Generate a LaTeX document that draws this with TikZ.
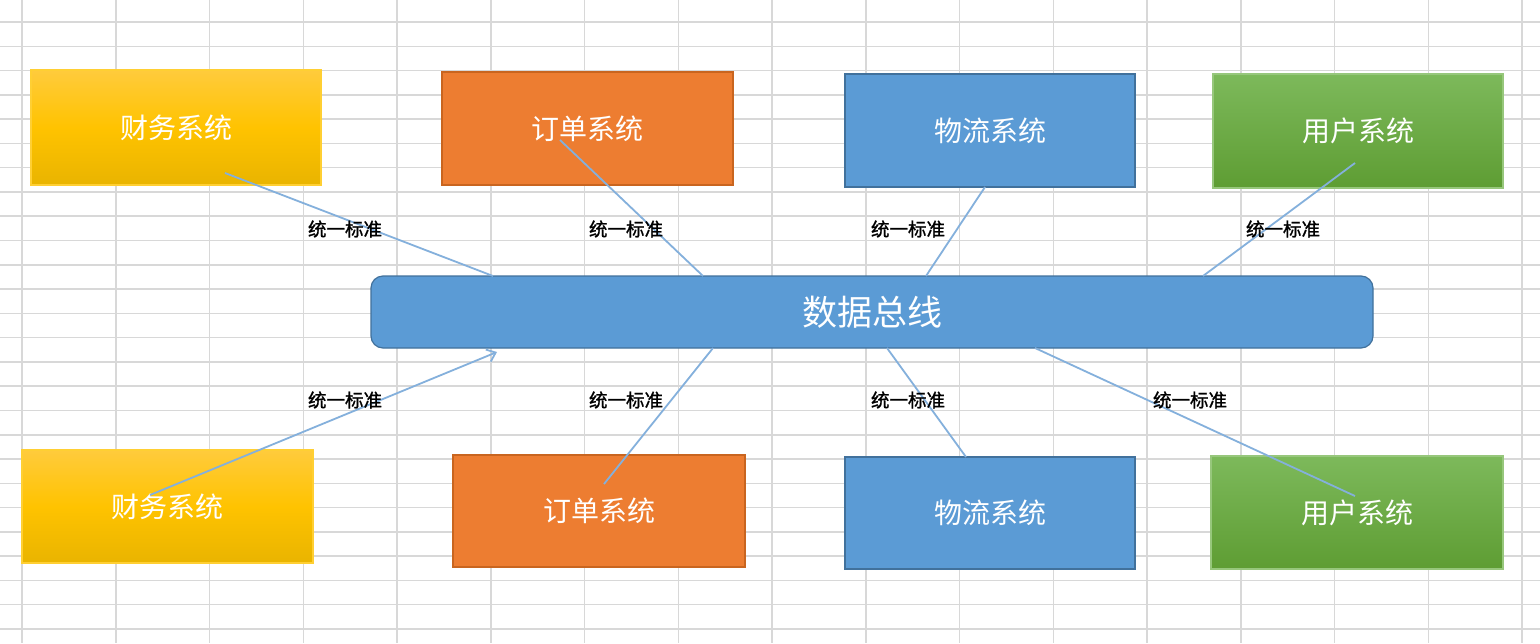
\documentclass[tikz,border=0pt]{standalone}
\usepackage{fontspec}
\setmainfont{Noto Sans CJK SC}
\newfontfamily\lblfont[FakeBold=1.2]{Noto Sans CJK SC}
\usetikzlibrary{arrows.meta}
\definecolor{gridc}{HTML}{D8D8D8}
\definecolor{ylwtop}{HTML}{FFCB3C}
\definecolor{ylwmid}{HTML}{FFC300}
\definecolor{ylwbot}{HTML}{E9B400}
\definecolor{orgfill}{HTML}{ED7D31}
\definecolor{orgdraw}{HTML}{C9651F}
\definecolor{blufill}{HTML}{5B9BD5}
\definecolor{bludraw}{HTML}{41719C}
\definecolor{grntop}{HTML}{7DB95B}
\definecolor{grnbot}{HTML}{5E9D33}
\definecolor{linkc}{HTML}{84B0DC}
\tikzset{
  sysbox/.style={minimum width=290pt, minimum height=113pt, inner sep=0pt, text=white,
    font=\fontsize{28}{28}\selectfont, line width=1.2pt},
  ylwbox/.style={sysbox, top color=ylwtop, bottom color=ylwbot, middle color=ylwmid, draw=ylwmid!80!white},
  orgbox/.style={sysbox, fill=orgfill, draw=orgdraw},
  blubox/.style={sysbox, fill=blufill, draw=bludraw},
  grnbox/.style={sysbox, top color=grntop, bottom color=grnbot, draw=grntop!80!white},
  busbox/.style={rounded corners=12pt, fill=blufill, draw=bludraw, line width=1.2pt,
    minimum width=1002pt, minimum height=72pt, text=white, font=\fontsize{35}{35}\selectfont},
  link/.style={draw=linkc, line width=1.8pt},
  lbl/.style={font=\lblfont\fontsize{18.5}{18.5}\selectfont, text=black, inner sep=0pt}
}
\begin{document}
\begin{tikzpicture}[x=1pt,y=-1pt]
\useasboundingbox (0,0) rectangle (1540,643);
\fill[white] (0,0) rectangle (1540,643);
% spreadsheet grid
\foreach \k in {0,...,16} \draw[gridc, line width=1.5pt] ({22+93.75*\k},0) -- ({22+93.75*\k},643);
\foreach \k in {0,...,25} \draw[gridc, line width=1.5pt] (0,{22+24.28*\k}) -- (1540,{22+24.28*\k});
% system boxes
\node[ylwbox, minimum height=115pt] (t1) at (176,127.5) {财务系统};
\node[orgbox, minimum width=291pt] (t2) at (587.5,128.5) {订单系统};
\node[blubox] (t3) at (990,130.5) {物流系统};
\node[grnbox, minimum height=114pt] (t4) at (1358,131) {用户系统};
\node[ylwbox, minimum width=291pt] (b1) at (167.5,506.5) {财务系统};
\node[orgbox, minimum width=292pt, minimum height=112pt] (b2) at (599,511) {订单系统};
\node[blubox, minimum height=112pt] (b3) at (990,513) {物流系统};
\node[grnbox, minimum width=292pt] (b4) at (1357,512.5) {用户系统};
% bus
\node[busbox] (bus) at (872,312) {数据总线};
% connector end points
\coordinate (t1s) at (225,173);
\coordinate (t1e) at (493,276);
\coordinate (t2s) at (560,140);
\coordinate (t2e) at (703,276);
\coordinate (t3s) at (985,187);
\coordinate (t3e) at (926,276);
\coordinate (t4s) at (1355,163);
\coordinate (t4e) at (1203,276);
\coordinate (b1s) at (150,495);
\coordinate (b1e) at (497,352);
\coordinate (b2s) at (604,484);
\coordinate (b2e) at (713,348);
\coordinate (b3s) at (966,457);
\coordinate (b3e) at (887,348);
\coordinate (b4s) at (1355,496);
\coordinate (b4e) at (1035,348);
% connectors
\draw[link] (t1s) -- (t1e);
\draw[link] (t2s) -- (t2e);
\draw[link] (t3s) -- (t3e);
\draw[link] (t4s) -- (t4e);
\draw[link, -{Straight Barb[length=8pt, width=13pt, line width=1.8pt]}] (b1s) -- (b1e);
\draw[link] (b2s) -- (b2e);
\draw[link] (b3s) -- (b3e);
\draw[link] (b4s) -- (b4e);
% labels
\node[lbl] (l1) at (345,229) {统一标准};
\node[lbl] (l2) at (626,229) {统一标准};
\node[lbl] (l3) at (908,229) {统一标准};
\node[lbl] (l4) at (1283,229) {统一标准};
\node[lbl] (l5) at (345,400) {统一标准};
\node[lbl] (l6) at (626,400) {统一标准};
\node[lbl] (l7) at (908,400) {统一标准};
\node[lbl] (l8) at (1190,400) {统一标准};
\end{tikzpicture}
\end{document}
